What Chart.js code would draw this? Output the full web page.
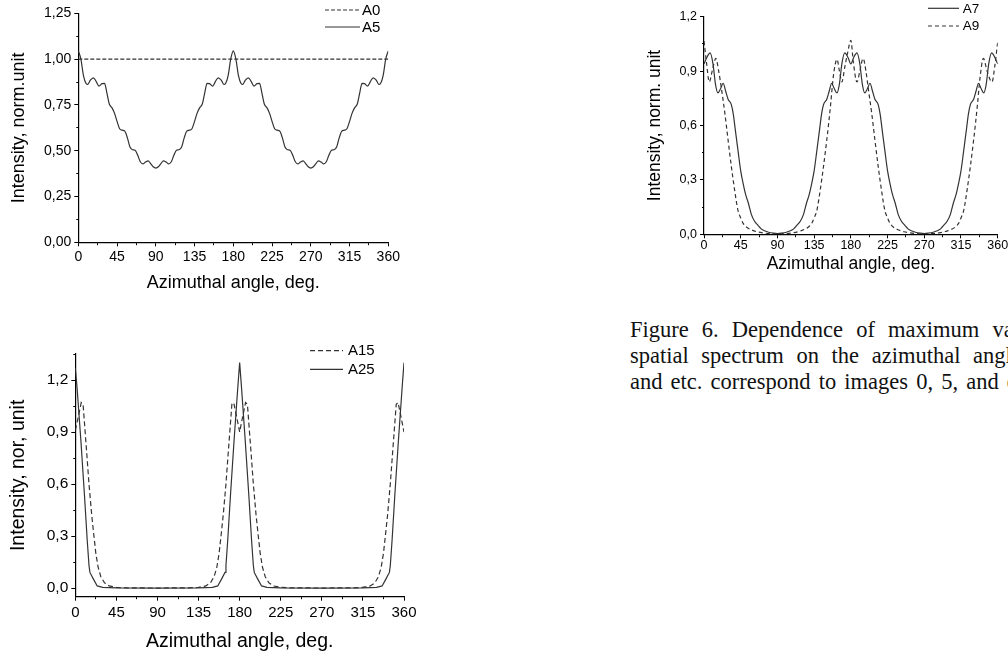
<!DOCTYPE html>
<html>
<head>
<meta charset="utf-8">
<script src="https://cdn.jsdelivr.net/npm/chart.js@4.4.0/dist/chart.umd.min.js"></script>
<style>
  html, body { margin: 0; padding: 0; background: #fff; }
  body { width: 1008px; height: 656px; overflow: hidden; position: relative; }
  canvas { position: absolute; }
  .cap { position: absolute; left: 630px; white-space: nowrap; font-family: 'Liberation Serif', 'Times New Roman', serif;
         font-size: 22.5px; line-height: 1; color: #111; }
</style>
</head>
<body>
<canvas id="c1" width="420" height="300" style="left:0;top:0"></canvas>
<canvas id="c2" width="420" height="290" style="left:600px;top:0"></canvas>
<canvas id="c3" width="420" height="326" style="left:0;top:330px"></canvas>
<div class="cap" style="top:319px;word-spacing:7.5px">Figure 6. Dependence of maximum values</div>
<div class="cap" style="top:345px;word-spacing:7px">spatial spectrum on the azimuthal angle</div>
<div class="cap" style="top:371px;word-spacing:2.5px">and etc. correspond to images 0, 5, and etc.</div>
<script>
// angle (deg) / intensity pairs
const a0 = [[0, 1], [360, 1]];
const a5 = [
  [0,1.045],[3,1.0],[6,0.91],[9,0.867],[11,0.862],[14,0.885],[17.5,0.898],[21,0.876],[24,0.853],[27.5,0.866],[30.5,0.868],
  [33,0.82],[36,0.755],[39,0.735],[42,0.705],[45,0.66],[48,0.62],[51,0.612],[54,0.607],[57,0.57],[60,0.52],[63,0.505],
  [66,0.502],[69,0.475],[72,0.44],[75,0.428],[78,0.438],[81,0.445],[84,0.43],[87,0.412],[90,0.405],
  [93,0.412],[96,0.43],[99,0.445],[102,0.438],[105,0.428],[108,0.44],[111,0.475],[114,0.502],[117,0.505],[120,0.52],
  [123,0.57],[126,0.607],[129,0.612],[132,0.62],[135,0.66],[138,0.705],[141,0.735],[144,0.755],[147,0.82],[149.5,0.868],
  [152.5,0.866],[156,0.853],[159,0.876],[162.5,0.898],[166,0.885],[169,0.862],[171,0.867],[174,0.91],[177,1.0],[180,1.045],
  [183,1.0],[186,0.91],[189,0.867],[191,0.862],[194,0.885],[197.5,0.898],[201,0.876],[204,0.853],[207.5,0.866],[210.5,0.868],
  [213,0.82],[216,0.755],[219,0.735],[222,0.705],[225,0.66],[228,0.62],[231,0.612],[234,0.607],[237,0.57],[240,0.52],[243,0.505],
  [246,0.502],[249,0.475],[252,0.44],[255,0.428],[258,0.438],[261,0.445],[264,0.43],[267,0.412],[270,0.405],
  [273,0.412],[276,0.43],[279,0.445],[282,0.438],[285,0.428],[288,0.44],[291,0.475],[294,0.502],[297,0.505],[300,0.52],
  [303,0.57],[306,0.607],[309,0.612],[312,0.62],[315,0.66],[318,0.705],[321,0.735],[324,0.755],[327,0.82],[329.5,0.868],
  [332.5,0.866],[336,0.853],[339,0.876],[342.5,0.898],[346,0.885],[349,0.862],[351,0.867],[354,0.91],[357,1.0],[360,1.045]
];
const a7 = [
  [0,0.94],[3.5,0.975],[7.5,1.0],[11,0.94],[14,0.83],[17,0.78],[20.5,0.805],[23.5,0.833],[26.5,0.79],[29.5,0.745],[33.5,0.715],
  [36,0.66],[38,0.59],[42,0.45],[45,0.35],[48,0.28],[51,0.22],[54.5,0.17],[58,0.11],[62,0.072],[66,0.05],[70,0.03],[75,0.018],
  [80,0.01],[85,0.006],[90,0.004],
  [95,0.006],[100,0.01],[105,0.018],[110,0.03],[114,0.05],[118,0.072],[122,0.11],[125.5,0.17],[129,0.22],[132,0.28],[135,0.35],
  [138,0.45],[142,0.59],[144,0.66],[146.5,0.715],[150.5,0.745],[153.5,0.79],[156.5,0.833],[159.5,0.805],[163,0.78],[166,0.83],
  [169,0.94],[172.5,1.0],[176.5,0.975],[180,0.94],
  [183.5,0.975],[187.5,1.0],[191,0.94],[194,0.83],[197,0.78],[200.5,0.805],[203.5,0.833],[206.5,0.79],[209.5,0.745],[213.5,0.715],
  [216,0.66],[218,0.59],[222,0.45],[225,0.35],[228,0.28],[231,0.22],[234.5,0.17],[238,0.11],[242,0.072],[246,0.05],[250,0.03],
  [255,0.018],[260,0.01],[265,0.006],[270,0.004],
  [275,0.006],[280,0.01],[285,0.018],[290,0.03],[294,0.05],[298,0.072],[302,0.11],[305.5,0.17],[309,0.22],[312,0.28],[315,0.35],
  [318,0.45],[322,0.59],[324,0.66],[326.5,0.715],[330.5,0.745],[333.5,0.79],[336.5,0.833],[339.5,0.805],[343,0.78],[346,0.83],
  [349,0.94],[352.5,1.0],[356.5,0.975],[360,0.94]
];
const a9 = [
  [0,1.065],[3,0.95],[6.5,0.84],[10,0.9],[14.5,0.97],[18,0.9],[21.5,0.8],[25.5,0.67],[29.5,0.52],[33.5,0.375],[37.5,0.245],
  [41.5,0.135],[45,0.09],[48,0.06],[52,0.04],[58,0.025],[65,0.014],[72,0.008],[80,0.004],[90,0.002],
  [100,0.004],[108,0.008],[115,0.014],[122,0.025],[128,0.04],[132,0.06],[135,0.09],[138.5,0.135],[142.5,0.245],[146.5,0.375],
  [150.5,0.52],[153,0.62],[155.3,0.72],[158,0.85],[160.5,0.93],[163,0.965],[166,0.9],[169,0.84],[172.5,0.92],[176,1.0],[180,1.07],
  [183,0.95],[187.5,0.84],[191,0.9],[195,0.97],[198.5,0.9],[201.5,0.8],[205.5,0.67],[209.5,0.52],[213.5,0.375],[217.5,0.245],
  [221.5,0.135],[225,0.09],[228,0.06],[232,0.04],[238,0.025],[245,0.014],[252,0.008],[260,0.004],[270,0.002],
  [280,0.004],[288,0.008],[295,0.014],[302,0.025],[308,0.04],[312,0.06],[315,0.09],[318.5,0.135],[322.5,0.245],[326.5,0.375],
  [330.5,0.52],[333,0.62],[335.3,0.72],[338,0.85],[342.5,0.97],[347,0.9],[353,0.84],[356.5,0.93],[360,1.06]
];
const a15 = [
  [0,0.91],[3,0.98],[6.5,1.07],[8.5,1.06],[10.5,0.92],[12.5,0.78],[15,0.6],[18,0.42],[20,0.32],[22.5,0.2],[25,0.12],[28,0.065],
  [32,0.03],[37,0.012],[45,0.004],[55,0.001],[90,0],[125,0.001],[135,0.004],[143,0.012],[148,0.03],[152,0.065],[155,0.12],
  [157.5,0.2],[160,0.32],[162,0.42],[165,0.6],[167.5,0.78],[169.5,0.92],[171.5,1.06],[173.5,1.07],[177,0.98],[180,0.9],
  [183,0.98],[186.5,1.07],[188.5,1.06],[190.5,0.92],[192.5,0.78],[195,0.6],[198,0.42],[200,0.32],[202.5,0.2],[205,0.12],
  [208,0.065],[212,0.03],[217,0.012],[225,0.004],[235,0.001],[270,0],[305,0.001],[315,0.004],[323,0.012],[328,0.03],[332,0.065],
  [335,0.12],[337.5,0.2],[340,0.32],[342,0.42],[345,0.6],[347.5,0.78],[349.5,0.92],[351.5,1.06],[353.5,1.07],[357,0.98],[360,0.9]
];
const a25 = [
  [0,1.27],[2,1.15],[6,0.86],[10,0.54],[13,0.28],[15,0.13],[16,0.09],[20,0.05],[24,0.012],[30,0.004],[45,0.001],[90,0],
  [135,0.001],[150,0.004],[156,0.012],[160,0.05],[164,0.09],[165,0.13],[167,0.28],[170,0.54],[174,0.86],[178,1.16],[180,1.3],
  [182,1.16],[186,0.86],[190,0.54],[193,0.28],[195,0.13],[196,0.09],[200,0.05],[204,0.012],[210,0.004],[225,0.001],[270,0],
  [315,0.001],[330,0.004],[336,0.012],[340,0.05],[344,0.09],[345,0.13],[347,0.28],[350,0.54],[354,0.86],[358,1.16],[360,1.3]
];

Chart.defaults.font.family = "'Liberation Sans', Arial, sans-serif";
Chart.defaults.color = '#000';
Chart.defaults.animation = false;

const LINE = '#333';

function isMajor(v, step) {
  return Math.abs(v / step - Math.round(v / step)) < 1e-6;
}

function pts(arr) {
  return arr.map(p => ({ x: p[0], y: p[1] }));
}

// legend drawn inside the plot, line sample + label
const inlineLegend = {
  id: 'inlineLegend',
  afterDraw(chart, args, o) {
    const ctx = chart.ctx;
    ctx.save();
    ctx.font = o.size + "px 'Liberation Sans', Arial, sans-serif";
    ctx.textBaseline = 'middle';
    ctx.fillStyle = '#000';
    chart.data.datasets.forEach((ds, i) => {
      const y = o.y + i * o.gap;
      ctx.strokeStyle = ds.borderColor;
      ctx.lineWidth = ds.borderWidth;
      ctx.setLineDash(ds.borderDash || []);
      ctx.beginPath();
      ctx.moveTo(o.x, y);
      ctx.lineTo(o.x + o.len, y);
      ctx.stroke();
      ctx.setLineDash([]);
      ctx.fillText(ds.label, o.x + o.len + o.textGap, y + 0.5);
    });
    ctx.restore();
  }
};

function xAxis(o) {
  return {
    type: 'linear', min: 0, max: 360,
    ticks: {
      stepSize: 22.5, autoSkip: false, maxRotation: 0, minRotation: 0, padding: o.pad,
      font: { size: o.tick },
      callback: v => isMajor(v, 45) ? String(v) : ''
    },
    grid: {
      display: true, drawOnChartArea: false, tickLength: 4, tickColor: '#000', tickWidth: 1,
      tickBorderDash: c => (c.tick && !isMajor(c.tick.value, 45)) ? [2, 100] : []
    },
    border: { display: true, color: '#000', width: 1.2 },
    title: { display: true, text: 'Azimuthal angle, deg.', font: { size: o.title }, padding: { top: 0, bottom: o.titlePad } },
    afterFit: s => { s.height = o.height; }
  };
}

function yAxis(o) {
  return {
    type: 'linear', min: o.min, max: o.max,
    ticks: {
      stepSize: o.step, includeBounds: false, autoSkip: false, padding: 3,
      font: { size: o.tick },
      callback: v => isMajor(v, o.major) ? v.toFixed(o.dec).replace('.', ',') : ''
    },
    grid: {
      display: true, drawOnChartArea: false, tickLength: 4, tickColor: '#000', tickWidth: 1,
      tickBorderDash: c => (c.tick && !isMajor(c.tick.value, o.major)) ? [0, 2, 2, 100] : []
    },
    border: { display: true, color: '#000', width: 1.2 },
    title: { display: true, text: o.label, font: { size: o.title }, padding: { top: o.titlePad, bottom: 0 } },
    afterFit: s => { s.width = o.width; }
  };
}

function series(label, arr, dash, smooth) {
  return {
    label: label, data: pts(arr), borderColor: LINE, borderWidth: 1.2, borderDash: dash,
    pointRadius: 0, fill: false,
    cubicInterpolationMode: smooth ? 'monotone' : 'default', tension: 0
  };
}

function makeChart(id, datasets, layoutPad, xo, yo, leg) {
  return new Chart(document.getElementById(id), {
    type: 'line',
    data: { datasets: datasets },
    options: {
      responsive: false,
      layout: { padding: layoutPad },
      plugins: { legend: { display: false }, tooltip: { enabled: false }, inlineLegend: leg },
      scales: { x: xAxis(xo), y: yAxis(yo) }
    },
    plugins: [inlineLegend]
  });
}

// top left: A0, A5
makeChart('c1',
  [series('A0', a0, [4, 2], false), series('A5', a5, [], true)],
  { left: 0, top: 13.3, right: 31.7, bottom: 0 },
  { tick: 14, pad: 2, title: 18, titlePad: 6.2, height: 57.7 },
  { min: 0, max: 1.25, step: 0.125, major: 0.25, dec: 2, tick: 14, title: 18, titlePad: 8.2, width: 78.3,
    label: 'Intensity, norm.unit' },
  { x: 325, y: 10, gap: 17, len: 35, textGap: 2, size: 15 });

// top right: A7, A9
makeChart('c2',
  [series('A7', a7, [], true), series('A9', a9, [4, 3], true)],
  { left: 0, top: 16.7, right: 22.3, bottom: 0 },
  { tick: 12.5, pad: 0, title: 17.5, titlePad: 15.5, height: 55.7 },
  { min: 0, max: 1.2, step: 0.15, major: 0.3, dec: 1, tick: 12.5, title: 17.5, titlePad: 44.5, width: 104,
    label: 'Intensity, norm. unit' },
  { x: 328, y: 8.3, gap: 17.7, len: 31, textGap: 3.7, size: 13.5 });

// bottom left: A15, A25
makeChart('c3',
  [series('A15', a15, [5, 3], false), series('A25', a25, [], false)],
  { left: 0, top: 24, right: 16, bottom: 0 },
  { tick: 15, pad: 3, title: 19.5, titlePad: 2.6, height: 59.3 },
  { min: -0.05, max: 1.35, step: 0.15, major: 0.3, dec: 1, tick: 15.5, title: 19.5, titlePad: 7.3, width: 75.3,
    label: 'Intensity, nor, unit' },
  { x: 310, y: 20.7, gap: 18.6, len: 33, textGap: 5, size: 15 });
</script>
</body>
</html>
